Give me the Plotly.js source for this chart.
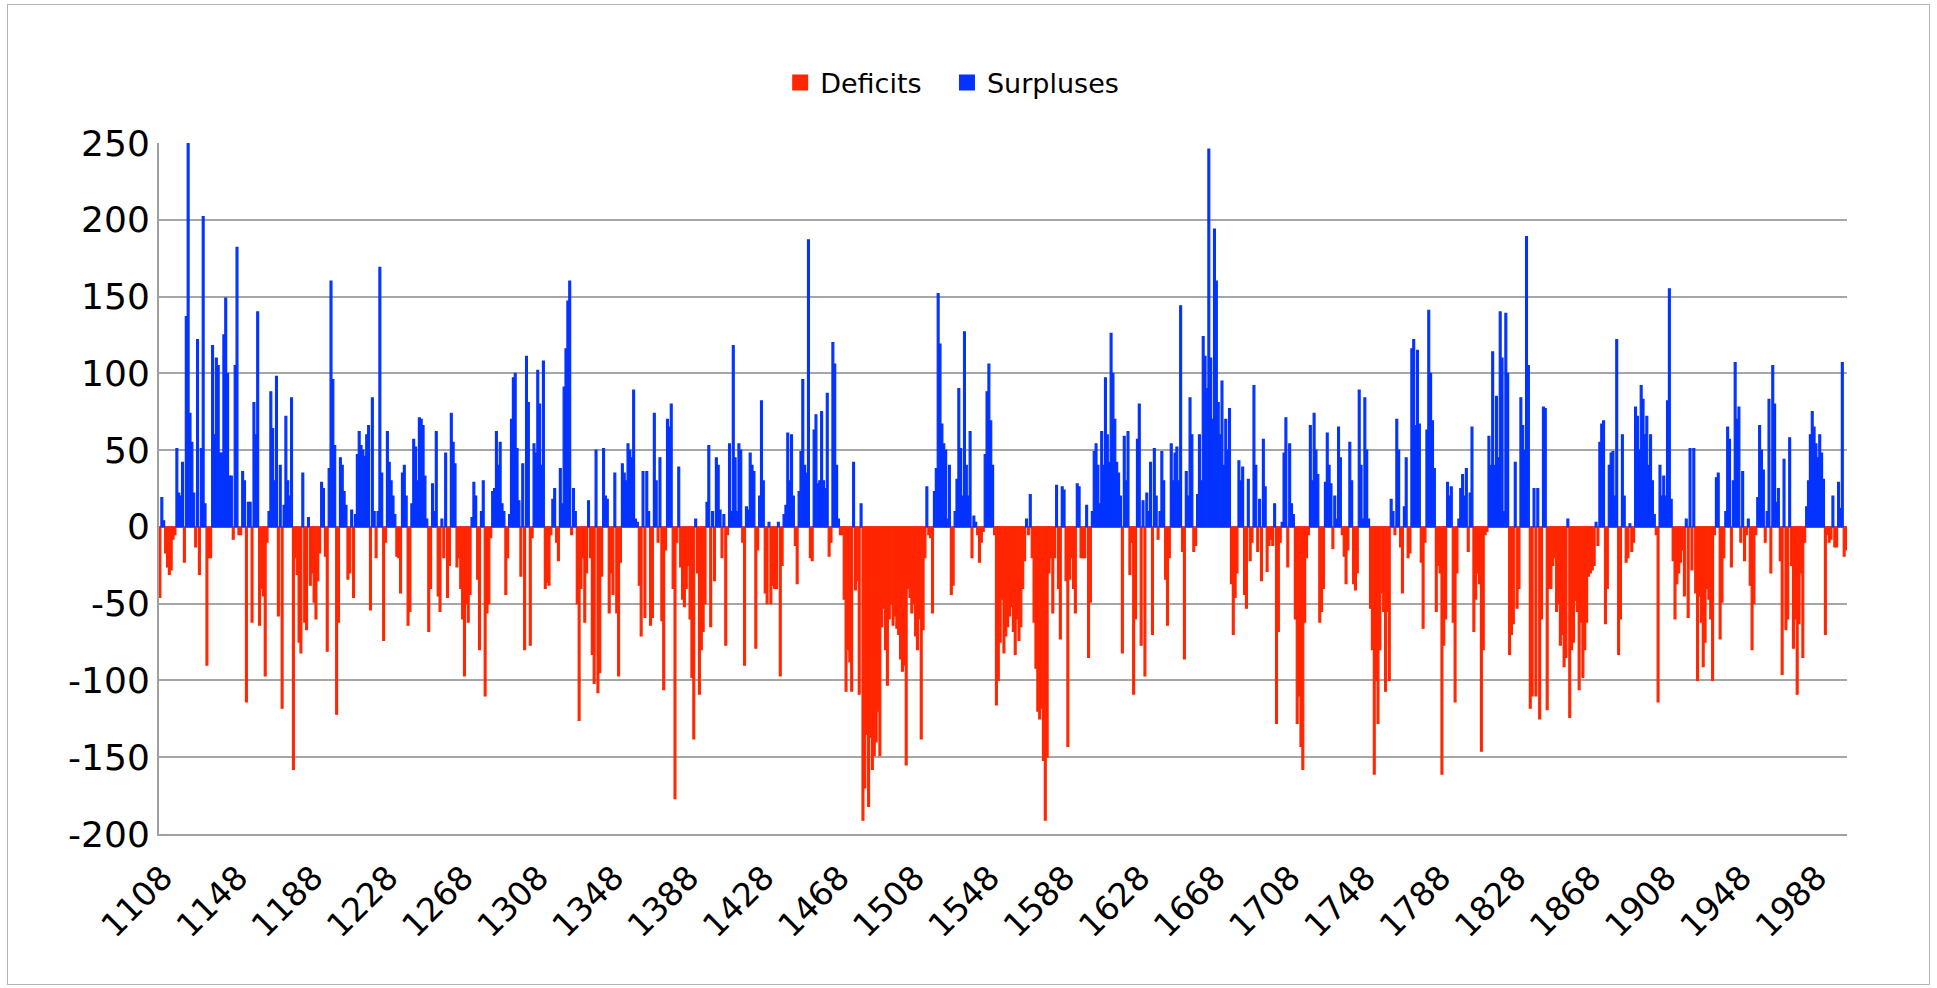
<!DOCTYPE html>
<html>
<head>
<meta charset="utf-8">
<script src="https://cdn.plot.ly/plotly-3.0.1.min.js"></script>
<style>
  html, body { margin: 0; padding: 0; background: #ffffff; }
  #chart { position: absolute; left: 0; top: 0; width: 1937px; height: 988px; }
  #frame { position: absolute; left: 7px; top: 4px; width: 1921px; height: 979px;
           border: 1px solid #b4b4b4; pointer-events: none; }
</style>
</head>
<body>
<div id="chart"></div>
<div id="frame"></div>
<script>
// ---- Data: yearly values (surplus > 0, deficit < 0), first year 1108 ----
const firstYear = 1108;

const v1108 = [-46, 19, 4, -17, -26, -31, -28, -8, -5, 51,
  22, 20, 42, -23, 137, 250, 74, 55, 22, -13,
  122, -31, 51, 202, 15, -90, -20, -20, 118, 60,
  110, 105, 48, 48, 125, 149, 100, 33, 33, -8,
  105, 182, -5, -5, 36, 30, -114, 16, 16, -62,
  81, 60, 140, -64, -40, -45, -97, -10, 10, 88,
  64, 30, 98, -58, 40, -118, 14, 72, 30, 20,
  84, -158, -20, -31, -75, -82, 35, -62, -67, 6,
  -38, -30];

const v1190 = [-49, -60, -35, -17, 29, 25, -19, -81, 38, 160,
  96, 53, -122, -62, 45, 40, 23, 14, -34, -30,
  11, -46, 8, 47, 62, 53, 50, 46, 60, 66,
  -54, 84, 10, -20, 10, 169, 35, -74, -10, 62,
  42, 30, 20, 8, -19, -20, -43, 35, 40, 20,
  -64, -55, 15, 57, 52, 30, 71, 70, 66, 33,
  5, -68, -40, 28, 10, 62, -45, -55, 5, -20,
  48, -46, -25, 74, 55, 41, -26, -20, -40, -60,
  -97, -50];

const v1272 = [-62, -44, 6, 29, 20, -34, -80, 10, 30, -110,
  -56, -50, -7, 23, 25, 62, 40, 55, 15, 10,
  -44, -20, 8, 70, 97, 100, 51, 17, -32, 41,
  -80, 111, 81, -77, -7, 54, 48, 102, 80, 40,
  108, -40, -36, -38, -5, 18, 25, -10, -22, 38,
  15, 91, 116, 147, 160, -5, 25, 10, -50, -126,
  -40, -20, -62, -30, 17, -20, -83, -102, 50, -108,
  -95, -32, 51, 20, 18, -56, -30, -44, 35, -56,
  -97, -23];

const v1354 = [41, 35, 30, 54, 50, 45, 89, 5, 3, -38,
  -71, 36, -59, 36, 10, -64, -59, 74, 30, -10,
  45, -61, -106, -15, 70, 65, 80, -40, -177, -10,
  39, -26, -47, -52, -40, -25, -60, -98, -138, 5,
  -30, -109, -80, -68, -50, 16, 53, -65, 10, -35,
  45, 40, 11, -20, 8, -77, -5, 54, 10, 118,
  45, 10, 54, 50, -10, -90, 13, 11, 48, 40,
  36, -79, -15, 20, 82, 30, -43, -50, 3, -50,
  -38, -40];

const v1436 = [-40, 3, -97, -25, 8, 14, 61, 30, 60, 20,
  -12, -37, 23, 49, 96, 40, 35, 187, -20, -22,
  63, 73, 28, 30, 75, 30, 25, 87, -19, -10,
  120, 106, 40, 5, -5, -5, -47, -107, -80, -88,
  -107, 42, -41, -35, -109, 15, -191, -170, -135, -182,
  -137, -158, -149, -140, -120, -149, -65, -53, -80, -103,
  -60, -50, -64, -58, -66, -70, -86, -94, -90, -155,
  -40, -46, -56, -50, -71, -80, -60, -138, -67, -20,
  26, -5];

const v1518 = [-7, -56, 23, 38, 152, 119, 67, 54, 50, 5,
  40, -44, -38, 10, 31, 90, 51, 20, 127, 40,
  20, 62, -20, 7, 3, -5, -23, -10, -3, 47,
  88, 106, 69, 40, -5, -116, -100, -75, -47, -82,
  -71, -65, -58, -52, -68, -83, -60, -74, -65, -40,
  -22, 5, -5, 21, -20, -62, -92, -120, -125, -118,
  -152, -191, -150, -30, -20, -56, -20, 27, -40, -73,
  26, 24, -35, -143, -34, -20, -40, -56, 28, 26,
  -20, -20];

const v1600 = [-20, 14, -85, -49, 10, 49, 54, 40, 15, 62,
  40, 97, 60, 42, 126, 100, 70, 42, 35, 20,
  -82, 59, 30, 62, -31, -10, -109, -60, 57, 80,
  -77, 17, -97, 22, 10, 42, -70, 51, 20, -8,
  10, 49, 30, -34, -64, -20, 54, 30, 48, 52,
  30, 144, -16, -86, 36, 20, 84, 60, -16, -12,
  21, 60, 30, 124, 111, 90, 246, 110, 70, 194,
  160, 81, 60, 95, 40, 70, 50, 77, -37, -70,
  -46, -30];

const v1682 = [43, 30, 39, -44, -53, 31, -22, -10, 92, 40,
  -16, 18, -35, 57, 26, -29, -12, -8, -12, 15,
  -128, -68, -10, 3, 48, 71, -26, 54, 15, 8,
  -60, -128, -110, -143, -158, -62, -20, -5, 66, 30,
  74, 50, 34, -62, -55, -40, 29, 61, 40, 28,
  -14, 20, 5, 65, 45, -5, -19, -37, -15, 55,
  30, -37, -41, -30, 89, 40, 5, 84, 50, 5,
  -53, -80, -161, -100, -128, -80, -43, -55, -107, -55,
  -100, 18];

const v1764 = [10, -5, 70, 50, -13, -43, 13, 45, -20, -17,
  116, 122, 66, 115, 67, -23, -66, -10, 63, 141,
  100, 69, 38, -55, -25, -30, -161, -77, -60, 29,
  20, 26, -62, -114, -30, 5, 25, 34, 20, 38,
  -16, 22, 65, -68, -47, -30, -37, -146, -80, -5,
  -3, 59, 40, 114, 40, 85, 45, 140, 110, 10,
  139, 100, -83, -70, -63, 42, -53, -40, 84, 66,
  50, 189, 105, -118, -110, 25, -110, 25, -125, -60,
  78, 77];

const v1846 = [-119, -40, -40, -25, -20, -55, -50, -77, -70, -91,
  -85, 5, -124, -80, -75, -48, -55, -106, -62, -98,
  -80, -62, -32, -30, -28, -25, 3, -12, 55, 67,
  69, -63, -40, 40, 48, 49, 20, 122, -83, -60,
  60, 20, -23, -20, 2, -16, -10, 78, 72, 50,
  92, 83, 60, 72, 40, 60, 30, 8, -5, -114,
  40, 20, 33, 20, 82, 155, 18, -22, -60, -37,
  -30, -23, -15, -45, 5, -59, 51, -28, 51, -43,
  -100, -45];

const v1928 = [-62, -91, -75, -40, -47, -60, -100, -5, 32, 35,
  -73, -49, -20, 10, 65, 57, -26, 30, 107, 70,
  78, -10, 36, -22, -5, 5, -38, -80, -50, -5,
  19, 66, 50, 37, -10, 10, 83, -30, 105, 80,
  16, 25, -22, -96, 44, -67, -60, 58, -25, -79,
  -60, -109, -63, -30, -85, -10, 13, 30, 60, 75,
  65, 54, 45, 60, 48, 31, -70, -5, -10, -8,
  20, -13, -13, 29, 12, 107, -19, -15];

const xTickVals = [1108, 1148, 1188, 1228, 1268, 1308, 1348, 1388, 1428, 1468, 1508,
  1548, 1588, 1628, 1668, 1708, 1748, 1788, 1828, 1868, 1908, 1948, 1988];
const xTickText = ["1108", "1148", "1188", "1228", "1268", "1308", "1348", "1388", "1428", "1468", "1508",
  "1548", "1588", "1628", "1668", "1708", "1748", "1788", "1828", "1868", "1908", "1948", "1988"];
const yTickVals = [-200, -150, -100, -50, 0, 50, 100, 150, 200, 250];
const yTickText = ["-200", "-150", "-100", "-50", "0", "50", "100", "150", "200", "250"];

const seriesNames = ["Deficits", "Surpluses"];
const seriesColors = ["#ff2600", "#0433ff"];
const legendIds = ["legend", "legend2"];

// ---- Build traces ----
const values = [].concat(v1108, v1190, v1272, v1354, v1436, v1518, v1600, v1682, v1764, v1846, v1928);
const years = values.map((_, i) => firstYear + i);
const deficits = values.map(v => (v < 0 ? v : null));
const surpluses = values.map(v => (v > 0 ? v : null));
const seriesData = [deficits, surpluses];

const traces = [];
seriesNames.forEach((name, k) => {
  traces.push({
    type: "bar", name: name, x: years, y: seriesData[k],
    legendgroup: name, showlegend: false,
    marker: { color: seriesColors[k], line: { color: seriesColors[k], width: 1.2 } },
    width: 1
  });
});
// legend entries with larger square swatches, one legend per entry for exact placement
seriesNames.forEach((name, k) => {
  traces.push({
    type: "scatter", mode: "markers", name: name, x: [null], y: [null],
    legendgroup: name, showlegend: true, hoverinfo: "skip", legend: legendIds[k],
    marker: { symbol: "square", size: 16, color: seriesColors[k] }
  });
});

const font = "'DejaVu Sans', 'Liberation Sans', Arial, sans-serif";
const legendBase = {
  orientation: "h",
  xanchor: "left",
  y: 1.087, yanchor: "middle",
  font: { family: font, size: 27, color: "#000" },
  itemwidth: 30,
  itemsizing: "trace",
  bgcolor: "rgba(0,0,0,0)"
};

const layout = {
  width: 1937,
  height: 988,
  paper_bgcolor: "#ffffff",
  plot_bgcolor: "#ffffff",
  margin: { l: 159, r: 90, t: 143, b: 154, pad: 0 },
  barmode: "overlay",
  bargap: 0,
  showlegend: true,
  legend: Object.assign({}, legendBase, { x: 0.368 }),
  legend2: Object.assign({}, legendBase, { x: 0.4668 }),
  xaxis: {
    range: [firstYear - 0.5, firstYear + values.length - 0.5],
    tickmode: "array",
    tickvals: xTickVals,
    ticktext: xTickText,
    tickangle: -45,
    tickfont: { family: font, size: 33, color: "#000" },
    showgrid: false,
    zeroline: false,
    showline: true,
    linecolor: "#a0a0a0",
    linewidth: 2,
    ticks: "",
    ticklabelstandoff: 9,
    ticklabelshift: 3,
    fixedrange: true
  },
  yaxis: {
    range: [-200, 250],
    tickmode: "array",
    tickvals: yTickVals,
    ticktext: yTickText,
    tickfont: { family: font, size: 36, color: "#000" },
    showgrid: true,
    gridcolor: "#a6a6a6",
    gridwidth: 2,
    zeroline: true,
    zerolinecolor: "#a6a6a6",
    zerolinewidth: 2,
    showline: true,
    linecolor: "#a0a0a0",
    linewidth: 2,
    ticks: "",
    ticklabelstandoff: 0,
    fixedrange: true
  }
};

Plotly.newPlot("chart", traces, layout, { displayModeBar: false, staticPlot: true });
</script>
</body>
</html>
